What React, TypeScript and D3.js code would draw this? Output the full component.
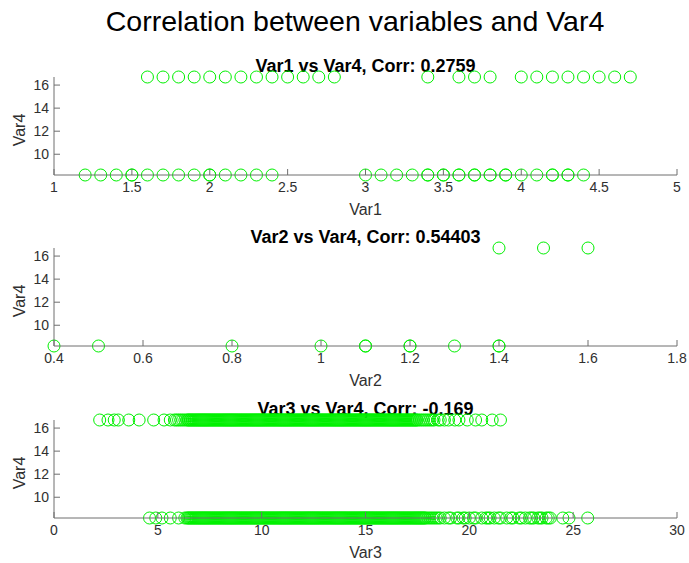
import React from 'react';
import * as d3 from 'd3';

const mainTitle = 'Correlation between variables and Var4';
const var4High = 16.7;
const var4Low = 8.2;
const yTicks = [10, 12, 14, 16];

// Panel 1: Var1
const var1High = [1.6, 1.7, 1.8, 1.9, 2.0, 2.1, 2.2, 2.3, 2.4, 2.5, 2.6, 2.7, 2.8, 3.4, 3.6, 3.7, 3.8, 4.0, 4.1, 4.2, 4.3, 4.4, 4.5, 4.6, 4.7];
const var1Low = [1.2, 1.3, 1.4, 1.5, 1.5, 1.6, 1.7, 1.8, 1.9, 2.0, 2.0, 2.1, 2.2, 2.3, 2.4, 3.0, 3.1, 3.2, 3.3, 3.4, 3.4, 3.5, 3.5, 3.6, 3.6, 3.7, 3.7, 3.8, 3.8, 3.9, 3.9, 4.0, 4.1, 4.2, 4.2, 4.3, 4.3, 4.4];
const var1Ticks = [1, 1.5, 2, 2.5, 3, 3.5, 4, 4.5, 5];

// Panel 2: Var2
const var2High = [1.4, 1.5, 1.6];
const var2Low = [0.4, 0.5, 0.8, 1.0, 1.1, 1.1, 1.2, 1.2, 1.3, 1.4, 1.4];
const var2Ticks = [0.4, 0.6, 0.8, 1, 1.2, 1.4, 1.6, 1.8];

// Panel 3: Var3
const var3High = [
  2.2, 2.6, 2.9, 3.1, 3.6, 4.1, 4.8, 5.3, 5.6,
  5.8, 5.9, 6.0, 6.1, 6.2, 6.3, 6.4, 6.5, 6.6, 6.7, 6.8, 6.9,
  7.0, 7.1, 7.2, 7.3, 7.4, 7.5, 7.6, 7.7, 7.8, 7.9,
  8.0, 8.1, 8.2, 8.3, 8.4, 8.5, 8.6, 8.7, 8.8, 8.9,
  9.0, 9.1, 9.2, 9.3, 9.4, 9.5, 9.6, 9.7, 9.8, 9.9,
  10.0, 10.1, 10.2, 10.3, 10.4, 10.5, 10.6, 10.7, 10.8, 10.9,
  11.0, 11.1, 11.2, 11.3, 11.4, 11.5, 11.6, 11.7, 11.8, 11.9,
  12.0, 12.1, 12.2, 12.3, 12.4, 12.5, 12.6, 12.7, 12.8, 12.9,
  13.0, 13.1, 13.2, 13.3, 13.4, 13.5, 13.6, 13.7, 13.8, 13.9,
  14.0, 14.1, 14.2, 14.3, 14.4, 14.5, 14.6, 14.7, 14.8, 14.9,
  15.0, 15.1, 15.2, 15.3, 15.4, 15.5, 15.6, 15.7, 15.8, 15.9,
  16.0, 16.1, 16.2, 16.3, 16.4, 16.5, 16.6, 16.7, 16.8, 16.9,
  17.0, 17.1, 17.2, 17.3, 17.4, 17.5, 17.6, 17.7, 17.9, 18.1, 18.2, 18.5,
  17.8, 18.0, 18.3, 18.6, 18.8, 19.0, 19.3, 19.5, 19.9, 20.3, 20.6, 21.1, 21.5,
];
const var3HighMore = [
  6.45, 6.55, 6.65, 6.75, 6.85, 6.95,
  7.05, 7.15, 7.25, 7.35, 7.45, 7.55, 7.65, 7.75, 7.85, 7.95,
  8.05, 8.15, 8.25, 8.35, 8.45, 8.55, 8.65, 8.75, 8.85, 8.95,
  9.05, 9.15, 9.25, 9.35, 9.45, 9.55, 9.65, 9.75, 9.85, 9.95,
  10.05, 10.15, 10.25, 10.35, 10.45, 10.55, 10.65, 10.75, 10.85, 10.95,
  11.05, 11.15, 11.25, 11.35, 11.45, 11.55, 11.65, 11.75, 11.85, 11.95,
  12.05, 12.15, 12.25, 12.35, 12.45, 12.55, 12.65, 12.75, 12.85, 12.95,
  13.05, 13.15, 13.25, 13.35, 13.45, 13.55, 13.65, 13.75, 13.85, 13.95,
  14.05, 14.15, 14.25, 14.35, 14.45, 14.55, 14.65, 14.75, 14.85, 14.95,
  15.05, 15.15, 15.25, 15.35, 15.45, 15.55, 15.65, 15.75, 15.85, 15.95,
  16.05, 16.15, 16.25, 16.35, 16.45, 16.55, 16.65, 16.75, 16.85, 16.95,
  17.05, 17.15, 17.25, 17.35, 17.45,
];
const var3Low = [
  4.6, 4.9, 5.2, 5.6, 6.0,
  6.3, 6.4, 6.5, 6.6, 6.7, 6.8, 6.9,
  7.0, 7.1, 7.2, 7.3, 7.4, 7.5, 7.6, 7.7, 7.8, 7.9,
  8.0, 8.1, 8.2, 8.3, 8.4, 8.5, 8.6, 8.7, 8.8, 8.9,
  9.0, 9.1, 9.2, 9.3, 9.4, 9.5, 9.6, 9.7, 9.8, 9.9,
  10.0, 10.1, 10.2, 10.3, 10.4, 10.5, 10.6, 10.7, 10.8, 10.9,
  11.0, 11.1, 11.2, 11.3, 11.4, 11.5, 11.6, 11.7, 11.8, 11.9,
  12.0, 12.1, 12.2, 12.3, 12.4, 12.5, 12.6, 12.7, 12.8, 12.9,
  13.0, 13.1, 13.2, 13.3, 13.4, 13.5, 13.6, 13.7, 13.8, 13.9,
  14.0, 14.1, 14.2, 14.3, 14.4, 14.5, 14.6, 14.7, 14.8, 14.9,
  15.0, 15.1, 15.2, 15.3, 15.4, 15.5, 15.6, 15.7, 15.8, 15.9,
  16.0, 16.1, 16.2, 16.3, 16.4, 16.5, 16.6, 16.7, 16.8, 16.9,
  17.0, 17.1, 17.2, 17.3, 17.4, 17.5, 17.6, 17.7, 17.8, 17.9, 18.0,
  18.1, 18.2, 18.4, 18.5, 19.0, 19.5, 19.8, 20.2, 20.8, 21.0, 21.4, 22.0, 22.5, 23.0, 23.4, 23.8,
  18.3, 18.6, 18.8, 19.1, 19.4, 19.7, 20.0, 20.3, 20.6, 20.9, 21.2, 21.5, 21.8,
  22.1, 22.4, 22.7, 22.9, 23.1, 23.3, 23.5, 23.7, 23.9, 24.5, 24.8, 25.7,
];
const var3LowMore = [
  6.45, 6.55, 6.65, 6.75, 6.85, 6.95,
  7.05, 7.15, 7.25, 7.35, 7.45, 7.55, 7.65, 7.75, 7.85, 7.95,
  8.05, 8.15, 8.25, 8.35, 8.45, 8.55, 8.65, 8.75, 8.85, 8.95,
  9.05, 9.15, 9.25, 9.35, 9.45, 9.55, 9.65, 9.75, 9.85, 9.95,
  10.05, 10.15, 10.25, 10.35, 10.45, 10.55, 10.65, 10.75, 10.85, 10.95,
  11.05, 11.15, 11.25, 11.35, 11.45, 11.55, 11.65, 11.75, 11.85, 11.95,
  12.05, 12.15, 12.25, 12.35, 12.45, 12.55, 12.65, 12.75, 12.85, 12.95,
  13.05, 13.15, 13.25, 13.35, 13.45, 13.55, 13.65, 13.75, 13.85, 13.95,
  14.05, 14.15, 14.25, 14.35, 14.45, 14.55, 14.65, 14.75, 14.85, 14.95,
  15.05, 15.15, 15.25, 15.35, 15.45, 15.55, 15.65, 15.75, 15.85, 15.95,
  16.05, 16.15, 16.25, 16.35, 16.45, 16.55, 16.65, 16.75, 16.85, 16.95,
  17.05, 17.15, 17.25, 17.35, 17.45, 17.55, 17.65, 17.75, 17.85,
];
const var3Ticks = [0, 5, 10, 15, 20, 25, 30];

const panels = [
  { name: 'Var1', corr: '0.2759', high: var1High, low: var1Low, ticks: var1Ticks, top: 77 },
  { name: 'Var2', corr: '0.54403', high: var2High, low: var2Low, ticks: var2Ticks, top: 248 },
  { name: 'Var3', corr: '-0.169', high: var3High.concat(var3HighMore), low: var3Low.concat(var3LowMore), ticks: var3Ticks, top: 420 },
];

const W = 689;
const H = 563;
const LEFT = 54;
const RIGHT = 677;
const PH = 98;
const FONT = '"Liberation Sans", Arial, Helvetica, sans-serif';
const AXIS = '#6e6e6e';
const TEXT = '#303030';
const GREEN = '#00f000';

function Panel({ p }: { p: typeof panels[number] }) {
  const ext = d3.extent(p.ticks) as [number, number];
  const x = d3.scaleLinear().domain(ext).range([LEFT, RIGHT]);
  const y = d3.scaleLinear().domain([var4Low, var4High]).range([p.top + PH, p.top]);
  const bottom = p.top + PH;
  const fmt = (v: number) => String(v);
  return (
    <g>
      <text x={(LEFT + RIGHT) / 2} y={p.top - 5} textAnchor="middle" fontFamily={FONT} fontWeight="bold" fontSize={18} fill="#000">
        {`${p.name} vs Var4, Corr: ${p.corr}`}
      </text>
      {p.high.map((v, i) => (
        <circle key={'h' + i} cx={x(v)} cy={y(var4High)} r={6} fill="none" stroke={GREEN} strokeWidth={1} />
      ))}
      {p.low.map((v, i) => (
        <circle key={'l' + i} cx={x(v)} cy={y(var4Low)} r={6} fill="none" stroke={GREEN} strokeWidth={1} />
      ))}
      <line x1={LEFT} x2={RIGHT} y1={bottom} y2={bottom} stroke={AXIS} strokeWidth={1} />
      <line x1={LEFT} x2={LEFT} y1={bottom} y2={p.top} stroke={AXIS} strokeWidth={1} />
      {p.ticks.map((t) => (
        <g key={'xt' + t}>
          <line x1={x(t)} x2={x(t)} y1={bottom} y2={bottom - 6} stroke={AXIS} strokeWidth={1} />
          <text x={x(t)} y={bottom + 17} textAnchor="middle" fontFamily={FONT} fontSize={14} fill={TEXT}>
            {fmt(t)}
          </text>
        </g>
      ))}
      {yTicks.map((t) => (
        <g key={'yt' + t}>
          <line x1={LEFT} x2={LEFT + 6} y1={y(t)} y2={y(t)} stroke={AXIS} strokeWidth={1} />
          <text x={LEFT - 5} y={y(t) + 5} textAnchor="end" fontFamily={FONT} fontSize={14} fill={TEXT}>
            {t}
          </text>
        </g>
      ))}
      <text x={(LEFT + RIGHT) / 2} y={bottom + 40} textAnchor="middle" fontFamily={FONT} fontSize={16} fill={TEXT}>
        {p.name}
      </text>
      <text
        transform={`translate(25, ${p.top + PH / 2 + 4}) rotate(-90)`}
        textAnchor="middle"
        fontFamily={FONT}
        fontSize={16}
        fill={TEXT}
      >
        Var4
      </text>
    </g>
  );
}

export default function App() {
  return (
    <svg width={W} height={H} style={{ position: 'absolute', left: 0, top: 0, background: '#fff' }}>
      <rect x={0} y={0} width={W} height={H} fill="#fff" />
      <text x={355} y={31} textAnchor="middle" fontFamily={FONT} fontSize={28.5} fill="#000">
        {mainTitle}
      </text>
      {panels.map((p) => (
        <Panel key={p.name} p={p} />
      ))}
    </svg>
  );
}
